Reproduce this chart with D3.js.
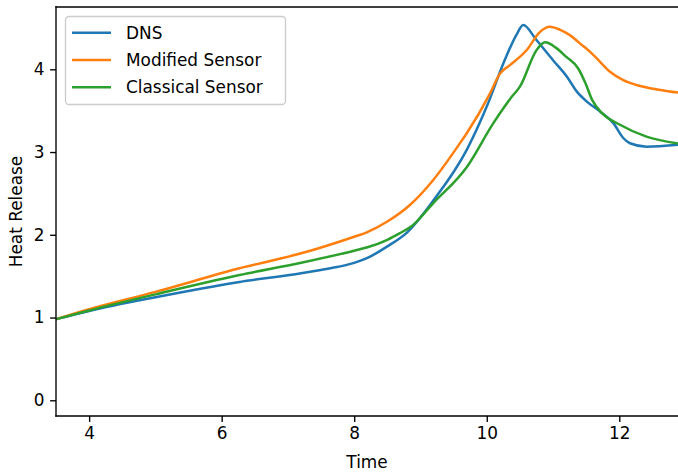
<!DOCTYPE html>
<html>
<head>
<meta charset="utf-8">
<script src="https://cdn.jsdelivr.net/npm/d3@7"></script>
<style>
  html, body { margin: 0; padding: 0; background: #fff; }
  svg { display: block; font-family: "DejaVu Sans", sans-serif; }
</style>
</head>
<body>
<svg id="chart" width="678" height="472"></svg>
<script>
// ---- data ----
const seriesNames = ["DNS", "Modified Sensor", "Classical Sensor"];
const seriesColors = ["#1f77b4", "#ff7f0e", "#2ca02c"];

const dnsTime = [3.5, 4.0, 5.0, 6.27, 7.2, 7.6, 8.0, 8.2, 8.5, 8.8, 9.2, 9.7, 10.0, 10.27, 10.45, 10.55, 10.75, 11.0, 11.21, 11.36, 11.51, 11.71, 11.91, 12.06, 12.16, 12.41, 12.92];
const dnsHeat = [0.98, 1.08, 1.245, 1.43, 1.535, 1.59, 1.66, 1.72, 1.86, 2.03, 2.42, 3.03, 3.55, 4.11, 4.42, 4.535, 4.354, 4.11, 3.91, 3.73, 3.61, 3.49, 3.35, 3.17, 3.106, 3.065, 3.09];

const modTime = [3.5, 4.0, 5.0, 6.27, 7.2, 8.0, 8.19, 8.5, 8.84, 9.19, 9.595, 9.70, 10.05, 10.2, 10.35, 10.6, 10.8, 10.95, 11.1, 11.26, 11.41, 11.56, 11.71, 11.86, 12.06, 12.26, 12.62, 12.92];
const modHeat = [0.98, 1.10, 1.31, 1.595, 1.776, 1.977, 2.03, 2.16, 2.36, 2.66, 3.106, 3.23, 3.71, 3.95, 4.05, 4.23, 4.45, 4.515, 4.48, 4.41, 4.31, 4.21, 4.09, 3.97, 3.87, 3.81, 3.75, 3.715];

const clsTime = [3.5, 4.0, 5.0, 6.27, 7.2, 8.0, 8.2, 8.5, 8.69, 8.87, 9.19, 9.70, 10.1, 10.38, 10.5, 10.75, 10.88, 11.06, 11.2, 11.38, 11.49, 11.59, 11.74, 12.01, 12.41, 12.92];
const clsHeat = [0.98, 1.085, 1.28, 1.514, 1.663, 1.808, 1.849, 1.94, 2.02, 2.106, 2.38, 2.82, 3.35, 3.67, 3.79, 4.23, 4.326, 4.25, 4.15, 4.01, 3.83, 3.63, 3.47, 3.33, 3.186, 3.10];

const xTicks = [4, 6, 8, 10, 12];
const yTicks = [0, 1, 2, 3, 4];
const xLabel = "Time";
const yLabel = "Heat Release";

// ---- layout ----
const svg = d3.select("#chart");
const pLeft = 56, pRight = 680, pTop = 7, pBottom = 416;
const fs = 16.9;

const x = d3.scaleLinear().domain([3.5, 12.916]).range([pLeft, pRight]);
const y = d3.scaleLinear().domain([-0.19, 4.753]).range([pBottom, pTop]);

svg.append("defs").append("clipPath").attr("id", "clip")
  .append("rect").attr("x", pLeft).attr("y", pTop).attr("width", pRight - pLeft).attr("height", pBottom - pTop);

const series = [
  { t: dnsTime, v: dnsHeat },
  { t: modTime, v: modHeat },
  { t: clsTime, v: clsHeat }
];

const line = d3.line().x(d => x(d[0])).y(d => y(d[1])).curve(d3.curveMonotoneX);

const plot = svg.append("g").attr("clip-path", "url(#clip)");
series.forEach((s, i) => {
  const pts = s.t.map((t, j) => [t, s.v[j]]);
  plot.append("path").datum(pts)
    .attr("d", line)
    .attr("fill", "none")
    .attr("stroke", seriesColors[i])
    .attr("stroke-width", 2.5)
    .attr("stroke-linejoin", "round")
    .attr("stroke-linecap", "square");
});

// axes
const xAxis = d3.axisBottom(x).tickValues(xTicks).tickSize(5.9).tickPadding(5.5).tickFormat(d3.format("d"));
const yAxis = d3.axisLeft(y).tickValues(yTicks).tickSize(5.9).tickPadding(5.5).tickFormat(d3.format("d"));

const gx = svg.append("g").attr("transform", `translate(0,${pBottom})`).call(xAxis);
const gy = svg.append("g").attr("transform", `translate(${pLeft},0)`).call(yAxis);
[gx, gy].forEach(g => {
  g.select(".domain").remove();
  g.selectAll(".tick line").attr("stroke", "#000").attr("stroke-width", 1.36);
  g.selectAll(".tick text").attr("fill", "#000").attr("font-size", fs).attr("font-family", "DejaVu Sans");
});

// spines
const sp = svg.append("g").attr("stroke", "#000").attr("stroke-width", 1.36).attr("fill", "none");
sp.append("line").attr("x1", pLeft).attr("x2", pLeft).attr("y1", pTop).attr("y2", pBottom).attr("stroke-linecap", "square");
sp.append("line").attr("x1", pLeft).attr("x2", pRight).attr("y1", pBottom).attr("y2", pBottom).attr("stroke-linecap", "square");
sp.append("line").attr("x1", pLeft).attr("x2", pRight).attr("y1", pTop).attr("y2", pTop).attr("stroke-linecap", "square");
sp.append("line").attr("x1", pRight).attr("x2", pRight).attr("y1", pTop).attr("y2", pBottom);

// axis labels
svg.append("text").attr("x", (pLeft + 678) / 2).attr("y", 468)
  .attr("text-anchor", "middle").attr("font-size", fs).attr("fill", "#000").text(xLabel);
svg.append("text").attr("transform", `translate(21.5,${(pTop + pBottom) / 2}) rotate(-90)`)
  .attr("text-anchor", "middle").attr("font-size", fs).attr("fill", "#000").text(yLabel);

// legend
const lg = svg.append("g");
lg.append("rect").attr("x", 65.5).attr("y", 16.5).attr("width", 220).attr("height", 88)
  .attr("rx", 3.5).attr("fill", "#fff").attr("fill-opacity", 0.8)
  .attr("stroke", "#cccccc").attr("stroke-width", 1.36);
const rowY = [32.7, 60, 87.2];
seriesNames.forEach((n, i) => {
  lg.append("line").attr("x1", 72).attr("x2", 111).attr("y1", rowY[i]).attr("y2", rowY[i])
    .attr("stroke", seriesColors[i]).attr("stroke-width", 2.5);
  lg.append("text").attr("x", 126).attr("y", rowY[i] + 6.2)
    .attr("font-size", fs).attr("fill", "#000").text(n);
});
</script>
</body>
</html>
